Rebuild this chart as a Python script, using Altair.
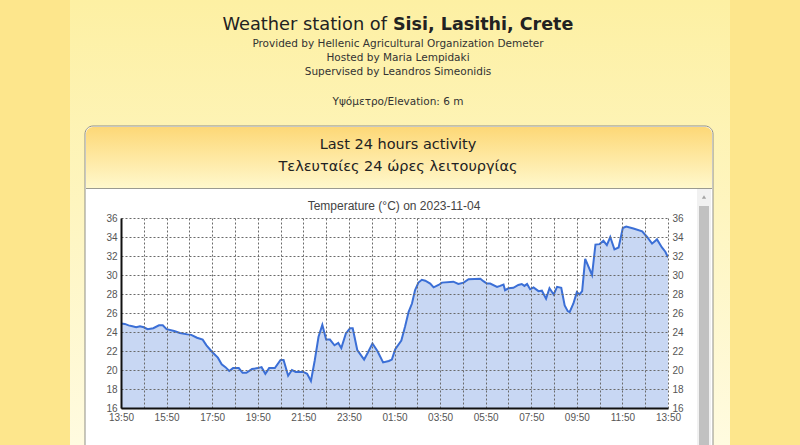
import altair as alt
import pandas as pd
from datetime import datetime, timedelta

# ---------------- data ----------------
minutes_since_start = [
    0, 10, 20, 30, 40, 50, 60, 70, 85, 100, 110, 120, 140, 155, 175, 185, 200, 215, 225, 240,
    255, 265, 275, 285, 295, 310, 320, 330, 345, 360, 370, 380, 390, 405, 420, 428, 440, 450,
    460, 480, 490, 500, 510, 520, 530, 540, 550, 562, 572, 580, 592, 603, 610, 622, 640, 650,
    662, 675, 690, 705, 713, 722, 738, 748, 757, 766, 774, 783, 792, 801, 814, 823, 836, 845,
    875, 888, 902, 915, 946, 954, 963, 972, 990, 998, 1007, 1011, 1020, 1033, 1046, 1055, 1062,
    1069, 1077, 1086, 1099, 1108, 1119, 1128, 1139, 1148, 1159, 1168, 1176, 1181, 1191, 1200,
    1207, 1214, 1222, 1240, 1249, 1260, 1270, 1279, 1288, 1299, 1310, 1321, 1330, 1349, 1372,
    1385, 1398, 1411, 1424, 1433, 1440,
]
temperature_c = [
    24.9, 24.85, 24.7, 24.6, 24.5, 24.6, 24.5, 24.3, 24.4, 24.7, 24.7, 24.3, 24.1, 23.9, 23.75,
    23.7, 23.4, 23.2, 22.6, 21.9, 21.3, 20.6, 20.3, 19.9, 20.2, 20.2, 19.7, 19.7, 20.1, 20.2,
    20.3, 19.6, 20.2, 20.2, 21.05, 21.05, 19.4, 20.0, 19.8, 19.8, 19.6, 18.85, 21.0, 23.5, 24.75,
    23.2, 23.2, 22.6, 22.85, 22.3, 23.85, 24.4, 24.4, 22.1, 21.1, 21.85, 22.8, 22.0, 20.8, 20.95,
    21.1, 22.2, 23.1, 24.6, 26.1, 27.0, 28.4, 29.2, 29.5, 29.4, 29.1, 28.7, 28.95, 29.2, 29.3,
    29.05, 29.2, 29.55, 29.6, 29.35, 29.1, 29.1, 28.75, 28.85, 29.0, 28.4, 28.6, 28.65, 28.95,
    29.05, 28.85, 29.05, 28.5, 28.7, 28.3, 28.35, 27.5, 28.6, 27.95, 28.75, 28.65, 26.8, 26.2,
    26.1, 27.0, 28.2, 27.95, 28.3, 31.7, 30.0, 33.2, 33.25, 33.6, 33.15, 34.0, 32.7, 32.9, 34.95,
    35.1, 34.9, 34.6, 34.0, 33.3, 33.75, 32.9, 32.45, 31.85,
]
start_time = "2023-11-03T13:50:00"
y_ticks = [16, 18, 20, 22, 24, 26, 28, 30, 32, 34, 36]

title_main = "Weather station of"
title_place = "Sisi, Lasithi, Crete"
sub_lines = [
    "Provided by Hellenic Agricultural Organization Demeter",
    "Hosted by Maria Lempidaki",
    "Supervised by Leandros Simeonidis",
]
elevation_line = "Υψόμετρο/Elevation: 6 m"
panel_line1 = "Last 24 hours activity"
panel_line2 = "Τελευταίες 24 ώρες λειτουργίας"
chart_title = "Temperature (°C) on 2023-11-04"

# ---------------- build table ----------------
t0 = datetime.fromisoformat(start_time)
df = pd.DataFrame({
    "time": [(t0 + timedelta(minutes=m)).strftime("%Y-%m-%dT%H:%M:%S") for m in minutes_since_start],
    "temp": temperature_c,
})

def dt(d):
    return alt.DateTime(year=d.year, month=d.month, date=d.day, hours=d.hour, minutes=d.minute)

hour_marks = [dt(t0 + timedelta(hours=h)) for h in range(25)]

# ---------------- layout ----------------
OX, OY = 121, 218           # plot origin in page pixels
W, H = 547, 190             # plot size
one = pd.DataFrame({"k": [0]})

def px(v):
    return alt.value(v - OX)

def py(v):
    return alt.value(v - OY)

def rect(x1, y1, x2, y2, **kw):
    return alt.Chart(one).mark_rect(**kw).encode(x=px(x1), x2=px(x2), y=py(y1), y2=py(y2))

def text(x, y, s, **kw):
    return alt.Chart(one).mark_text(text=s, **kw).encode(x=px(x), y=py(y))

def vgrad(c1, c2):
    return alt.Gradient(gradient="linear",
                        stops=[alt.GradientStop(color=c1, offset=0), alt.GradientStop(color=c2, offset=1)],
                        x1=0, x2=0, y1=0, y2=1)

HDR_FONT = "DejaVu Sans"
deco = [
    rect(70, 0, 730, 445, fill=vgrad("#fdf0a3", "#fffbe0")),
    rect(85, 126, 713, 470, fill="white", stroke="#8f8f86", strokeWidth=1, cornerRadius=8),
    rect(86, 127, 712, 188, fill=vgrad("#fdd877", "#fff8cc"),
         cornerRadiusTopLeft=7, cornerRadiusTopRight=7),
    rect(86, 188, 712, 189, fill="#9a9a90"),
    rect(697, 189, 711, 445, fill="#f1f1f1"),
    rect(699, 206, 709, 445, fill="#c1c1c1"),
    alt.Chart(one).mark_point(shape="triangle-up", filled=True, size=18, color="#a3a3a3", opacity=1)
        .encode(x=px(704), y=py(197)),
    text(387, 25, title_main, align="right", baseline="middle", font=HDR_FONT, fontSize=17.8, color="#222"),
    text(393, 25, title_place, align="left", baseline="middle", font=HDR_FONT, fontSize=17.5,
         fontWeight="bold", color="#222"),
    text(398, 44, sub_lines[0], align="center", baseline="middle", font=HDR_FONT, fontSize=10.5, color="#333"),
    text(398, 58, sub_lines[1], align="center", baseline="middle", font=HDR_FONT, fontSize=10.5, color="#333"),
    text(398, 72, sub_lines[2], align="center", baseline="middle", font=HDR_FONT, fontSize=10.5, color="#333"),
    text(398, 102, elevation_line, align="center", baseline="middle", font=HDR_FONT, fontSize=10.5, color="#333"),
    text(398, 145, panel_line1, align="center", baseline="middle", font=HDR_FONT, fontSize=14.5, color="#222"),
    text(398, 167, panel_line2, align="center", baseline="middle", font=HDR_FONT, fontSize=14.5, color="#222"),
    text(394, 206, chart_title, align="center", baseline="middle", font="Liberation Sans", fontSize=12,
         color="#444"),
]

x_scale = alt.Scale(domain=[hour_marks[0], hour_marks[-1]], nice=False)
y_scale = alt.Scale(domain=[16, 36], nice=False, zero=False)

GRID = "#6a6a6a"
x_axis = alt.Axis(
    values=hour_marks, format="%H:%M",
    labelExpr="hours(datum.value) % 2 == 1 ? timeFormat(datum.value, '%H:%M') : ''",
    title=None, grid=True, gridColor=GRID, gridDash=[2, 2], gridWidth=1,
    domainColor="#111", domainWidth=2, ticks=False, labelFlush=False, labelOverlap=False,
    labelPadding=4, labelFontSize=10, labelColor="#555", labelFont="Liberation Sans", zindex=1,
)
y_axis_left = alt.Axis(
    values=y_ticks, title=None, grid=True, gridColor=GRID, gridDash=[2, 2], gridWidth=1,
    domainColor="#111", domainWidth=2, ticks=False, labelPadding=4, labelFontSize=10,
    labelColor="#555", labelFont="Liberation Sans", orient="left", zindex=1,
)
y_axis_right = alt.Axis(
    values=y_ticks, title=None, grid=False, domain=False, ticks=False, labelPadding=4,
    labelFontSize=10, labelColor="#555", labelFont="Liberation Sans", orient="right", zindex=1,
)

base = alt.Chart(df)
area = base.mark_area(color="#c8d7f3", opacity=1, clip=True).encode(
    x=alt.X("time:T", scale=x_scale, axis=x_axis),
    y=alt.Y("temp:Q", scale=y_scale, axis=y_axis_left),
    y2=alt.datum(16),
)
line = base.mark_line(color="#3b6fd6", strokeWidth=2, clip=True).encode(
    x=alt.X("time:T", scale=x_scale, axis=x_axis),
    y=alt.Y("temp:Q", scale=y_scale, axis=y_axis_right),
)

chart = alt.layer(*deco, area, line).resolve_axis(y="independent").properties(
    width=W, height=H,
    autosize=alt.AutoSizeParams(type="none"),
    padding={"left": OX, "top": OY, "right": 800 - OX - W, "bottom": 445 - OY - H},
    background="#fde68c",
).configure_view(stroke=None)

chart.save("out.html", embed_options={"renderer": "svg", "actions": False})
